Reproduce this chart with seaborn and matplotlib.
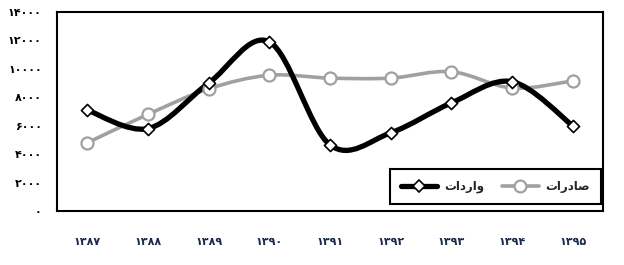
import matplotlib
matplotlib.use("Agg")
import matplotlib.pyplot as plt
from matplotlib.path import Path
from matplotlib.patches import PathPatch
from matplotlib.lines import Line2D
import seaborn as sns
import pandas as pd
import numpy as np

years = ["۱۳۸۷", "۱۳۸۸", "۱۳۸۹", "۱۳۹۰", "۱۳۹۱", "۱۳۹۲", "۱۳۹۳", "۱۳۹۴", "۱۳۹۵"]
imports = [7100, 5800, 9000, 11900, 4650, 5500, 7600, 9100, 6000]
exports = [4800, 6800, 8600, 9550, 9350, 9350, 9800, 8650, 9150]
y_ticks = [0, 2000, 4000, 6000, 8000, 10000, 12000, 14000]
y_tick_labels = ["۰", "۲۰۰۰", "۴۰۰۰", "۶۰۰۰", "۸۰۰۰", "۱۰۰۰۰", "۱۲۰۰۰", "۱۴۰۰۰"]
# visual (left-to-right) forms of the Persian labels
label_imports = "\u062a\u0627\u062f\u0631\u0627\u0648"          # واردات
label_exports = "\ufe95\ufe8d\ufead\ufea9\ufe8e\ufebb"          # صادرات

sns.set_theme(style="white")
plt.rcParams["font.family"] = ["DejaVu Sans"]

df = pd.DataFrame({"x": np.arange(len(years)), "imports": imports, "exports": exports})

fig = plt.figure(figsize=(6.24, 2.65), dpi=100)
ax = fig.add_axes([57 / 624, 54 / 265, 546 / 624, 199 / 265])


def smooth_path(xs, ys):
    pts = np.column_stack([xs, ys]).astype(float)
    n = len(pts)
    verts = [pts[0]]
    codes = [Path.MOVETO]
    for i in range(n - 1):
        p0 = pts[i - 1] if i > 0 else pts[i]
        p1 = pts[i]
        p2 = pts[i + 1]
        p3 = pts[i + 2] if i + 2 < n else pts[i + 1]
        c1 = p1 + (p2 - p0) / 6.0
        c2 = p2 - (p3 - p1) / 6.0
        verts += [c1, c2, p2]
        codes += [Path.CURVE4] * 3
    return Path(verts, codes)


black = "#000000"
gray = "#a0a0a0"

ax.add_patch(PathPatch(smooth_path(df["x"], df["exports"]), facecolor="none",
                       edgecolor=gray, lw=2.6, zorder=2, capstyle="round", joinstyle="round"))
ax.add_patch(PathPatch(smooth_path(df["x"], df["imports"]), facecolor="none",
                       edgecolor=black, lw=3.8, zorder=3, capstyle="round", joinstyle="round"))

sns.scatterplot(data=df, x="x", y="exports", ax=ax, marker="o", s=75,
                facecolor="white", edgecolor=gray, linewidth=1.6, zorder=4, legend=False)
sns.scatterplot(data=df, x="x", y="imports", ax=ax, marker="D", s=38,
                facecolor="white", edgecolor=black, linewidth=1.2, zorder=5, legend=False)

ax.set_xlim(-0.5, len(years) - 0.5)
ax.set_ylim(0, 14000)
ax.set_xlabel("")
ax.set_ylabel("")

ax.set_yticks(y_ticks)
ax.set_yticklabels(y_tick_labels, fontsize=8, fontweight="bold", color="black")
ax.set_xticks(np.arange(len(years)))
ax.set_xticklabels(years, fontsize=8, fontweight="bold", color="#1a2a4a")
ax.set_xticks(np.arange(len(years) + 1) - 0.5, minor=True)
ax.tick_params(axis="x", which="major", length=0, pad=19)
ax.tick_params(axis="x", which="minor", length=5, width=1.3, direction="out", color="black")
ax.tick_params(axis="y", which="major", length=5, width=1.3, direction="out", color="black", pad=6)

for s in ax.spines.values():
    s.set_visible(True)
    s.set_color("black")
    s.set_linewidth(1.5)

handles = [
    Line2D([], [], color=black, lw=3.8, marker="D", markersize=6,
           markerfacecolor="white", markeredgecolor=black, markeredgewidth=1.2),
    Line2D([], [], color=gray, lw=2.6, marker="o", markersize=8.5,
           markerfacecolor="white", markeredgecolor=gray, markeredgewidth=1.6),
]
leg = ax.legend(handles, [label_imports, label_exports], ncol=2, loc="lower right",
                bbox_to_anchor=(0.996, 0.035), frameon=True, fancybox=False,
                framealpha=1, edgecolor="black", handlelength=3.1, columnspacing=1.5,
                handletextpad=0.6, borderpad=0.9, borderaxespad=0,
                prop={"size": 8.5, "weight": "bold"})
leg.get_frame().set_linewidth(1.5)

fig.savefig("out.png", dpi=100)
